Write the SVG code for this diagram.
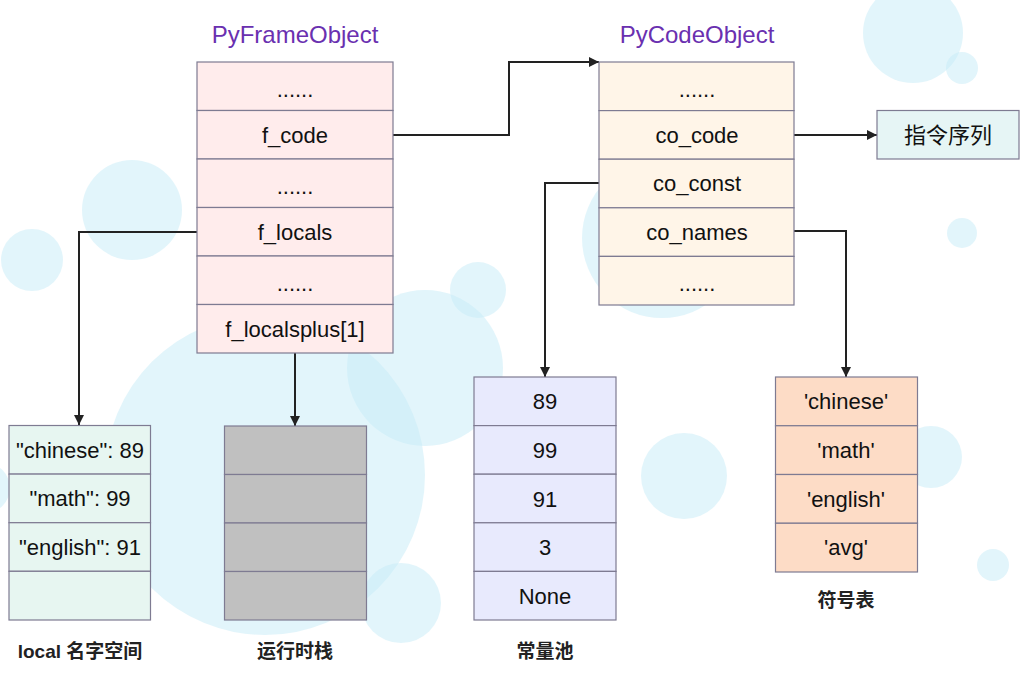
<svg xmlns="http://www.w3.org/2000/svg" width="1030" height="686" viewBox="0 0 1030 686">
<defs>
<style>
.bg{fill:#C6ECF7;opacity:0.5}
.box{stroke:#7E7B92;stroke-width:1.2}
.t{font-family:"Liberation Sans","Noto Sans CJK SC",sans-serif;font-size:22px;fill:#111;text-anchor:middle}
.title{font-family:"Liberation Sans",sans-serif;font-size:24px;fill:#6A30B0;text-anchor:middle}
.lbl{font-family:"Liberation Sans","Noto Sans CJK SC",sans-serif;font-size:19px;font-weight:bold;fill:#222;text-anchor:middle}
.con{fill:none;stroke:#222;stroke-width:2}
.frame{fill:#FFECEC}
.code{fill:#FFF5E8}
.seq{fill:#E6F5F5}
.loc{fill:#E7F6F1}
.stk{fill:#C0C0C0}
.cst{fill:#E8EAFD}
.sym{fill:#FDDCC6}
</style>
<marker id="arr" markerUnits="userSpaceOnUse" markerWidth="11" markerHeight="11" refX="10" refY="5" orient="auto">
<path d="M0,0 L10,5 L0,10 z" fill="#222"/>
</marker>
</defs>
<rect width="1030" height="686" fill="#FFFFFF"/>
<g id="background">
<circle class="bg" cx="913" cy="33" r="50"/>
<circle class="bg" cx="962" cy="68" r="16"/>
<circle class="bg" cx="132" cy="210" r="50"/>
<circle class="bg" cx="32" cy="260" r="31"/>
<circle class="bg" cx="478" cy="290" r="28"/>
<circle class="bg" cx="425" cy="368" r="78"/>
<circle class="bg" cx="265" cy="475" r="160"/>
<circle class="bg" cx="662" cy="238" r="80"/>
<circle class="bg" cx="401" cy="603" r="40"/>
<circle class="bg" cx="684" cy="476" r="43"/>
<circle class="bg" cx="931" cy="457" r="31"/>
<circle class="bg" cx="993" cy="565" r="16"/>
<circle class="bg" cx="962" cy="233" r="15"/>
<circle class="bg" cx="-15" cy="488" r="25"/>
</g>
<g id="connectors">
<path class="con" d="M393,135 H509 V62 H599" marker-end="url(#arr)"/>
<path class="con" d="M197,232 H79 V425" marker-end="url(#arr)"/>
<path class="con" d="M295,353 V426" marker-end="url(#arr)"/>
<path class="con" d="M794,135 H877" marker-end="url(#arr)"/>
<path class="con" d="M599,183 H545 V377" marker-end="url(#arr)"/>
<path class="con" d="M794,231 H846 V377" marker-end="url(#arr)"/>
</g>
<g id="PyFrameObject">
<text class="title" x="295" y="43">PyFrameObject</text>
<rect class="box frame" x="197" y="62" width="196" height="48.5"/>
<rect class="box frame" x="197" y="110.5" width="196" height="48.5"/>
<rect class="box frame" x="197" y="159" width="196" height="48.5"/>
<rect class="box frame" x="197" y="207.5" width="196" height="48.5"/>
<rect class="box frame" x="197" y="256" width="196" height="48.5"/>
<rect class="box frame" x="197" y="304.5" width="196" height="48.5"/>
<text class="t" x="295" y="97">......</text>
<text class="t" x="295" y="143">f_code</text>
<text class="t" x="295" y="194">......</text>
<text class="t" x="295" y="240">f_locals</text>
<text class="t" x="295" y="291">......</text>
<text class="t" x="295" y="337">f_localsplus[1]</text>
</g>
<g id="PyCodeObject">
<text class="title" x="697" y="43">PyCodeObject</text>
<rect class="box code" x="599" y="62" width="195" height="48.6"/>
<rect class="box code" x="599" y="110.6" width="195" height="48.6"/>
<rect class="box code" x="599" y="159.2" width="195" height="48.6"/>
<rect class="box code" x="599" y="207.8" width="195" height="48.6"/>
<rect class="box code" x="599" y="256.4" width="195" height="48.6"/>
<text class="t" x="697" y="97">......</text>
<text class="t" x="697" y="143">co_code</text>
<text class="t" x="697" y="191">co_const</text>
<text class="t" x="697" y="240">co_names</text>
<text class="t" x="697" y="291">......</text>
</g>
<g id="instructions">
<rect class="box seq" x="877" y="110.5" width="142" height="48.5"/>
<text class="t" x="948" y="143">指令序列</text>
</g>
<g id="locals">
<rect class="box loc" x="9" y="425.5" width="141.5" height="48.6"/>
<rect class="box loc" x="9" y="474.1" width="141.5" height="48.6"/>
<rect class="box loc" x="9" y="522.7" width="141.5" height="48.6"/>
<rect class="box loc" x="9" y="571.3" width="141.5" height="48.7"/>
<text class="t" x="80" y="458">"chinese": 89</text>
<text class="t" x="80" y="506">"math": 99</text>
<text class="t" x="80" y="555">"english": 91</text>
<text class="lbl" x="80" y="658">local 名字空间</text>
</g>
<g id="stack">
<rect class="box stk" x="224.5" y="426" width="142" height="48.5"/>
<rect class="box stk" x="224.5" y="474.5" width="142" height="48.5"/>
<rect class="box stk" x="224.5" y="523" width="142" height="48.5"/>
<rect class="box stk" x="224.5" y="571.5" width="142" height="48.5"/>
<text class="lbl" x="295" y="658">运行时栈</text>
</g>
<g id="consts">
<rect class="box cst" x="474" y="377" width="142" height="48.6"/>
<rect class="box cst" x="474" y="425.6" width="142" height="48.6"/>
<rect class="box cst" x="474" y="474.2" width="142" height="48.6"/>
<rect class="box cst" x="474" y="522.8" width="142" height="48.6"/>
<rect class="box cst" x="474" y="571.4" width="142" height="48.6"/>
<text class="t" x="545" y="409">89</text>
<text class="t" x="545" y="458">99</text>
<text class="t" x="545" y="507">91</text>
<text class="t" x="545" y="555">3</text>
<text class="t" x="545" y="604">None</text>
<text class="lbl" x="545" y="658">常量池</text>
</g>
<g id="names">
<rect class="box sym" x="775.5" y="377" width="142" height="48.75"/>
<rect class="box sym" x="775.5" y="425.75" width="142" height="48.75"/>
<rect class="box sym" x="775.5" y="474.5" width="142" height="48.75"/>
<rect class="box sym" x="775.5" y="523.25" width="142" height="48.75"/>
<text class="t" x="846" y="409">'chinese'</text>
<text class="t" x="846" y="458">'math'</text>
<text class="t" x="846" y="507">'english'</text>
<text class="t" x="846" y="555">'avg'</text>
<text class="lbl" x="846" y="607">符号表</text>
</g>
</svg>
